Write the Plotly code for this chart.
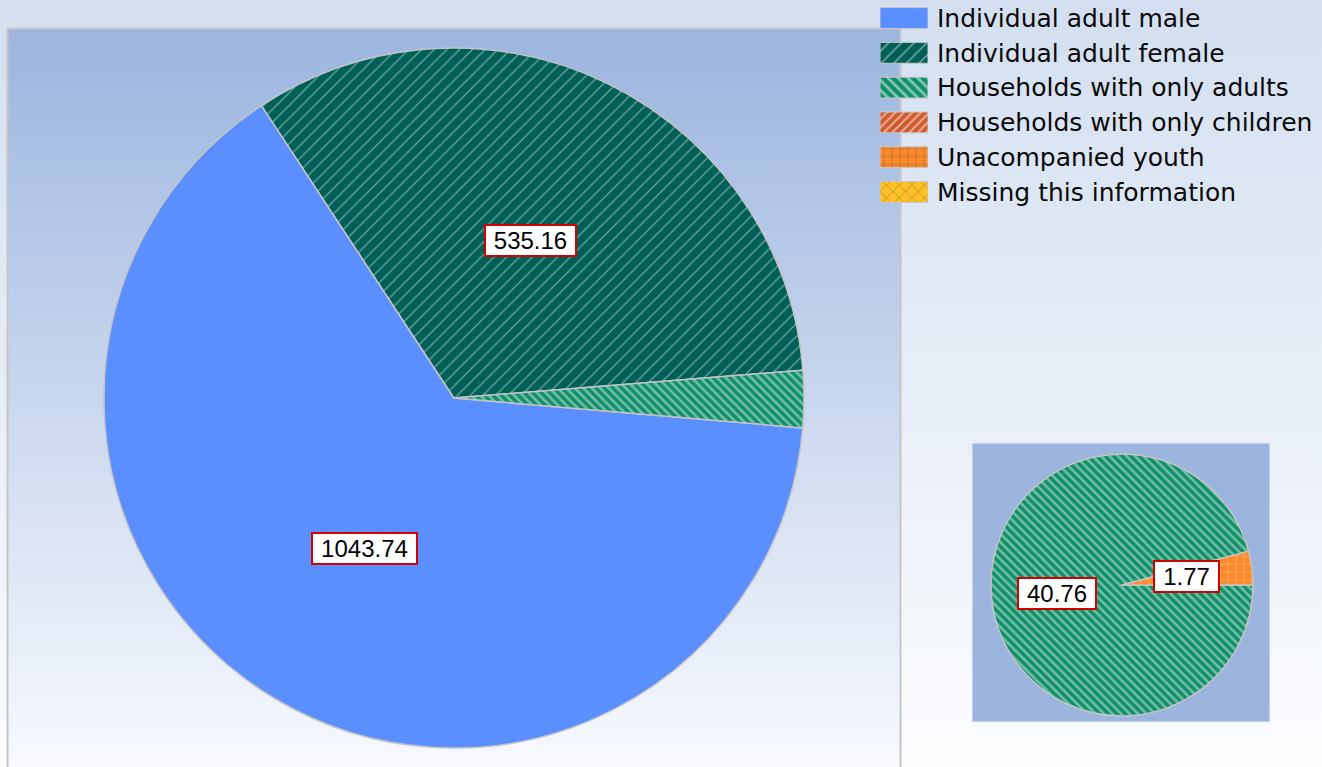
import math
import base64
import plotly.graph_objects as go

W, H = 1322, 767

# ---------------- data ----------------
categories = [
    "Individual adult male",
    "Individual adult female",
    "Households with only adults",
    "Households with only children",
    "Unacompanied youth",
    "Missing this information",
]
cat_colors = ["#5b8eff", "#005f56", "#0f8f68", "#cf5a2c", "#ff8a2a", "#ffc125"]
cat_shapes = ["", "/", "\\", "/", "+", "x"]

main_labels = ["Individual adult male", "Individual adult female", "Households with only adults"]
main_values = [1043.74, 535.16, 42.53]
main_show_label = [True, True, False]

detail_labels = ["Households with only adults", "Unacompanied youth"]
detail_values = [40.76, 1.77]
detail_show_label = [True, True]

# ---------------- geometry (pixels) ----------------
MAIN_CX, MAIN_CY, MAIN_R, MAIN_ROT = 454, 398, 350, 94.9
DET_CX, DET_CY, DET_R, DET_ROT = 1122, 585, 131, 90


def dom(cx, cy, r):
    return dict(x=[(cx - r) / W, (cx + r) / W], y=[1 - (cy + r) / H, 1 - (cy - r) / H])


def style_for(labels):
    idx = [categories.index(l) for l in labels]
    sizes = {"/": 9, "\\": 6, "+": 8, "x": 9, "": 8}
    solid = {"/": 0.14, "\\": 0.42, "+": 0.15, "x": 0.15, "": 0.3}
    return dict(
        colors=[cat_colors[i] for i in idx],
        pattern=dict(
            shape=[cat_shapes[i] for i in idx],
            fgcolor=["#dceeec" for i in idx],
            bgcolor=[cat_colors[i] for i in idx],
            size=[sizes[cat_shapes[i]] for i in idx],
            solidity=[solid[cat_shapes[i]] for i in idx],
            fillmode="overlay",
        ),
        line=dict(color="#c4c4c4", width=1.5),
    )


fig = go.Figure()

fig.add_trace(go.Pie(
    labels=main_labels, values=main_values, sort=False, direction="clockwise",
    rotation=MAIN_ROT, domain=dom(MAIN_CX, MAIN_CY, MAIN_R), textinfo="none",
    marker=style_for(main_labels), showlegend=False, hoverinfo="label+value",
))
fig.add_trace(go.Pie(
    labels=detail_labels, values=detail_values, sort=False, direction="clockwise",
    rotation=DET_ROT, domain=dom(DET_CX, DET_CY, DET_R), textinfo="none",
    marker=style_for(detail_labels), showlegend=False, hoverinfo="label+value",
))

# ---------------- legend built from a small bar subplot ----------------
fig.add_trace(go.Bar(
    x=[1] * len(categories), y=categories, orientation="h", width=0.6,
    marker=dict(
        color=cat_colors,
        pattern=dict(
            shape=cat_shapes,
            fgcolor=["#f4f4f4"] * len(categories),
            bgcolor=cat_colors,
            size=[8, 9, 7, 6, 8, 9],
            solidity=[0.3, 0.16, 0.4, 0.35, 0.15, 0.15],
            fillmode="overlay",
        ),
        line=dict(color="#c8c8c8", width=1),
    ),
    hoverinfo="skip", showlegend=False, xaxis="x", yaxis="y",
))

LEG_X0, LEG_X1 = 880, 928
LEG_TOP, LEG_STEP = 18, 34.8
n = len(categories)
leg_y_top = LEG_TOP - LEG_STEP / 2
leg_y_bot = LEG_TOP + (n - 0.5) * LEG_STEP


# ---------------- value labels ----------------
def label_positions(values, rot, cx, cy, r, frac=0.5):
    total = sum(values)
    start = 90 - rot
    acc = 0.0
    out = []
    for v in values:
        mid = start - (acc + v / 2) / total * 360
        acc += v
        out.append((cx + frac * r * math.cos(math.radians(mid)),
                    cy - frac * r * math.sin(math.radians(mid))))
    return out


FS = 24


def txt_width(s):
    return sum(0.278 * FS if c == "." else 0.556 * FS for c in s)


annotations = []
for vals, show, rot, cx, cy, r in [
    (main_values, main_show_label, MAIN_ROT, MAIN_CX, MAIN_CY, MAIN_R),
    (detail_values, detail_show_label, DET_ROT, DET_CX, DET_CY, DET_R),
]:
    for v, s, (px, py) in zip(vals, show, label_positions(vals, rot, cx, cy, r)):
        if not s:
            continue
        t = f"{v:.2f}"
        annotations.append(dict(
            text=t, x=px / W, y=1 - py / H, xref="paper", yref="paper",
            showarrow=False, xanchor="center", yanchor="middle",
            font=dict(family="Liberation Sans, Arial, sans-serif", size=FS, color="#000000"),
            bgcolor="#ffffff", bordercolor="#d40000", borderwidth=2, borderpad=1,
            width=round(txt_width(t) + 14), height=27, align="center",
        ))

# ---------------- background (gradients) ----------------
svg = f'''<svg xmlns="http://www.w3.org/2000/svg" width="{W}" height="{H}" viewBox="0 0 {W} {H}" preserveAspectRatio="none">
<defs>
<linearGradient id="pg" x1="0" y1="0" x2="0" y2="1"><stop offset="0" stop-color="#d3dff0"/><stop offset="1" stop-color="#fbfcfe"/></linearGradient>
<linearGradient id="pa" x1="0" y1="0" x2="0" y2="1"><stop offset="0" stop-color="#9bb5df"/><stop offset="1" stop-color="#f8fafe"/></linearGradient>
</defs>
<rect x="0" y="0" width="{W}" height="{H}" fill="url(#pg)"/>
<rect x="7.5" y="28.5" width="893" height="745" fill="url(#pa)" stroke="#c6c6c6" stroke-width="2"/>
<rect x="972.5" y="443.5" width="297" height="278" fill="#9cb5df" stroke="#c3d2ec" stroke-width="1"/>
</svg>'''
src = "data:image/svg+xml;base64," + base64.b64encode(svg.encode()).decode()

fig.update_layout(
    width=W, height=H, autosize=False,
    margin=dict(l=0, r=0, t=0, b=0),
    paper_bgcolor="#e6edf7", plot_bgcolor="rgba(0,0,0,0)",
    showlegend=False,
    images=[dict(source=src, xref="paper", yref="paper", x=0, y=1, sizex=1, sizey=1,
                 sizing="stretch", xanchor="left", yanchor="top", layer="below")],
    xaxis=dict(domain=[LEG_X0 / W, LEG_X1 / W], range=[0, 1], visible=False, fixedrange=True),
    yaxis=dict(
        domain=[1 - leg_y_bot / H, 1 - leg_y_top / H],
        type="category", categoryorder="array", categoryarray=categories,
        range=[n - 0.5, -0.5], side="right", anchor="x",
        showgrid=False, zeroline=False, showline=False, ticks="",
        ticklabelstandoff=8, fixedrange=True,
        tickfont=dict(family="DejaVu Sans, Verdana, sans-serif", size=25, color="#0a0a0a"),
    ),
    annotations=annotations,
)

fig.write_html(
    "out.html",
    config={"displayModeBar": False},
    post_script="document.body.style.margin='0';document.body.style.overflow='hidden';",
)
